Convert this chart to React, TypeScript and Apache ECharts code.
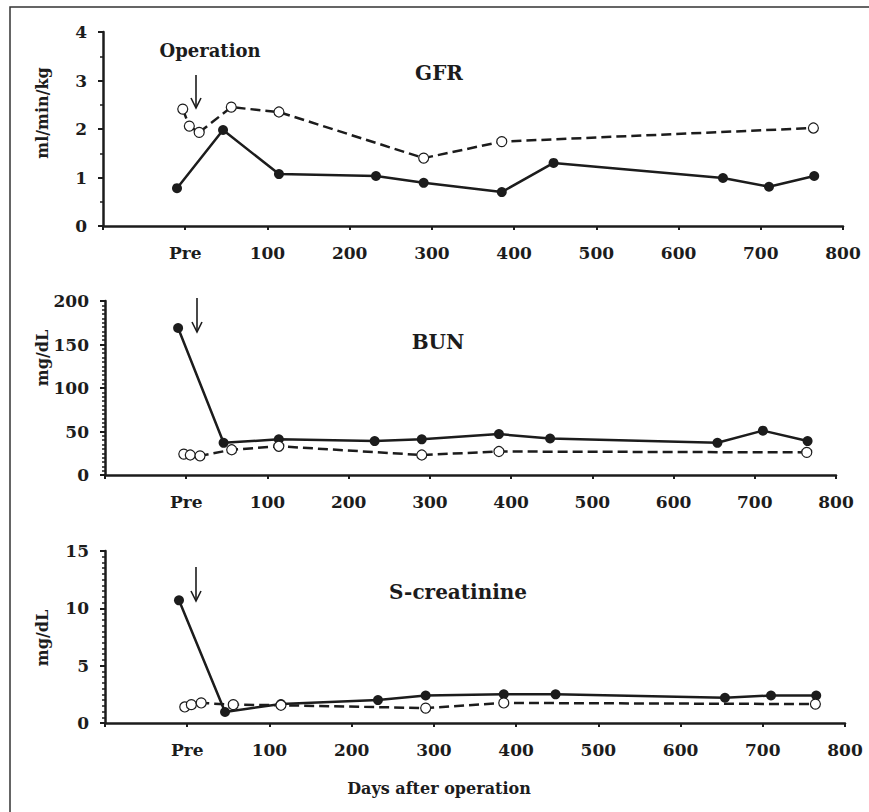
import React, { useEffect, useRef } from "react";
import * as echarts from "echarts";

// Days after operation (negative = pre-operative)
const filledDays = [-10, 46, 114, 232, 290, 385, 448, 654, 710, 765];
const openDays = [-3, 5, 17, 56, 114, 290, 385, 764];

const gfrFilled = [0.78, 1.98, 1.07, 1.03, 0.89, 0.7, 1.3, 0.99, 0.81, 1.03];
const gfrOpen = [2.41, 2.06, 1.93, 2.45, 2.35, 1.4, 1.74, 2.02];
const bunFilled = [169, 37, 41, 39, 41, 47, 42, 37, 51, 39];
const bunOpen = [24, 23, 22, 29, 33, 23, 27, 26];
const creFilled = [10.7, 0.96, 1.66, 2.0, 2.4, 2.5, 2.5, 2.2, 2.4, 2.4];
const creOpen = [1.4, 1.6, 1.75, 1.6, 1.55, 1.3, 1.75, 1.65];

const xTickLabels = ["", "Pre", "100", "200", "300", "400", "500", "600", "700", "800"];
const panelTitles = ["GFR", "BUN", "S-creatinine"];
const yNames = ["ml/min/kg", "mg/dL", "mg/dL"];
const yRanges = [
  { min: 0, max: 4, interval: 1, minor: 2 },
  { min: 0, max: 200, interval: 50, minor: 10 },
  { min: 0, max: 15, interval: 5, minor: 10 },
];

const FONT = "DejaVu Serif";
const INK = "#1c1c1c";

export default function App() {
  const ref = useRef<HTMLDivElement>(null);
  useEffect(() => {
    if (!ref.current) return;
    const chart = echarts.init(ref.current, undefined, { renderer: "svg" });
    const grids = [
      { left: 103, top: 32, width: 740, height: 194 },
      { left: 105, top: 301, width: 731, height: 174 },
      { left: 105, top: 551, width: 740, height: 172 },
    ];
    const xAxes = grids.map((_, i) => ({
      type: "value",
      gridIndex: i,
      min: -100,
      max: 800,
      interval: 100,
      splitLine: { show: false },
      axisLine: { onZero: false, lineStyle: { color: INK, width: 2.5 } },
      axisTick: { length: 4, lineStyle: { color: INK, width: 2 } },
      axisLabel: {
        margin: 18,
        fontFamily: FONT,
        fontWeight: "bold",
        fontSize: 17,
        color: INK,
        formatter: (v: number) => xTickLabels[Math.round((v + 100) / 100)] ?? "",
      },
    }));
    const yAxes = yRanges.map((r, i) => ({
      type: "value",
      gridIndex: i,
      min: r.min,
      max: r.max,
      interval: r.interval,
      splitLine: { show: false },
      axisLine: { show: true, onZero: false, lineStyle: { color: INK, width: 2.5 } },
      axisTick: { show: true, length: 5, lineStyle: { color: INK, width: 2 } },
      minorTick: { show: true, splitNumber: r.minor, length: 3, lineStyle: { color: INK, width: 1.5 } },
      axisLabel: {
        margin: 16,
        fontFamily: FONT,
        fontWeight: "bold",
        fontSize: 17,
        color: INK,
      },
    }));
    const pairs = (days: number[], vals: number[]) => days.map((d, i) => [d, vals[i]]);
    const solid = (i: number, vals: number[]) => ({
      type: "line",
      xAxisIndex: i,
      yAxisIndex: i,
      data: pairs(filledDays, vals),
      symbol: "circle",
      symbolSize: 10,
      itemStyle: { color: INK },
      lineStyle: { color: INK, width: 2.5 },
      z: 3,
    });
    const dashed = (i: number, vals: number[]) => ({
      type: "line",
      xAxisIndex: i,
      yAxisIndex: i,
      data: pairs(openDays, vals),
      symbol: "circle",
      symbolSize: 10,
      itemStyle: { color: "#ffffff", borderColor: INK, borderWidth: 1.2 },
      lineStyle: { color: INK, width: 2.5, type: [10, 5] },
      z: 4,
    });

    const titlePos = [
      [439, 73],
      [438, 342],
      [458, 592],
    ];
    const yNamePos = [
      [42, 113],
      [42, 358],
      [42, 638],
    ];
    const arrows = [
      [196, 75, 108],
      [197, 298, 332],
      [196, 567, 601],
    ];
    const graphic: any[] = [
      {
        type: "rect",
        shape: { x: 10, y: 7, width: 880, height: 840 },
        style: { fill: "none", stroke: "#333", lineWidth: 1.5 },
        silent: true,
      },
      {
        type: "text",
        x: 210,
        y: 50,
        style: { text: "Operation", font: `bold 18px '${FONT}'`, fill: INK, textAlign: "center", textVerticalAlign: "middle" },
      },
      {
        type: "text",
        x: 439,
        y: 788,
        style: { text: "Days after operation", font: `bold 16px '${FONT}'`, fill: INK, textAlign: "center", textVerticalAlign: "middle" },
      },
    ];
    panelTitles.forEach((t, i) => {
      graphic.push({
        type: "text",
        x: titlePos[i][0],
        y: titlePos[i][1],
        style: { text: t, font: `bold 20px '${FONT}'`, fill: INK, textAlign: "center", textVerticalAlign: "middle" },
      });
      graphic.push({
        type: "text",
        x: yNamePos[i][0],
        y: yNamePos[i][1],
        rotation: Math.PI / 2,
        style: { text: yNames[i], font: `bold 16px '${FONT}'`, fill: INK, textAlign: "center", textVerticalAlign: "middle" },
      });
    });
    arrows.forEach(([x, y0, y1]) => {
      graphic.push({
        type: "line",
        shape: { x1: x, y1: y0, x2: x, y2: y1 },
        style: { stroke: INK, lineWidth: 1.6 },
      });
      graphic.push({
        type: "polyline",
        shape: { points: [[x - 5, y1 - 10], [x, y1], [x + 5, y1 - 10]] },
        style: { stroke: INK, lineWidth: 1.6, fill: "none" },
      });
    });

    chart.setOption({
      animation: false,
      backgroundColor: "#ffffff",
      grid: grids,
      xAxis: xAxes,
      yAxis: yAxes,
      series: [
        solid(0, gfrFilled),
        dashed(0, gfrOpen),
        solid(1, bunFilled),
        dashed(1, bunOpen),
        solid(2, creFilled),
        dashed(2, creOpen),
      ],
      graphic,
    });
    return () => chart.dispose();
  }, []);
  return (
    <div
      ref={ref}
      style={{ position: "fixed", left: 0, top: 0, width: 869, height: 812, background: "#fff" }}
    />
  );
}
